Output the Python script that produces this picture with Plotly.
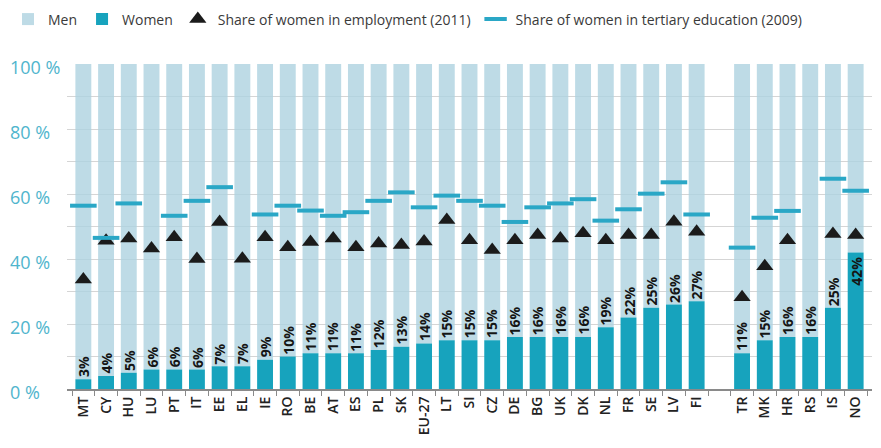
import plotly.graph_objects as go

categories = ["MT", "CY", "HU", "LU", "PT", "IT", "EE", "EL", "IE", "RO", "BE", "AT", "ES", "PL",
              "SK", "EU-27", "LT", "SI", "CZ", "DE", "BG", "UK", "DK", "NL", "FR", "SE", "LV", "FI",
              " ", "TR", "MK", "HR", "RS", "IS", "NO"]
women = [3, 4, 5, 6, 6, 6, 7, 7, 9, 10, 11, 11, 11, 12, 13, 14, 15, 15, 15, 16, 16, 16, 16, 19,
         22, 25, 26, 27, None, 11, 15, 16, 16, 25, 42]
employment = [33.7, 45.6, 46.3, 43.2, 46.7, 40.0, 51.4, 40.1, 46.7, 43.6, 45.2, 46.3, 43.6, 44.8,
              44.3, 45.4, 52.0, 45.8, 42.8, 45.8, 47.4, 46.3, 47.9, 45.8, 47.4, 47.4, 51.5, 48.4,
              None, 28.2, 37.8, 45.8, None, 47.7, 47.4]
tertiary = [56.4, 46.5, 57.1, None, 53.3, 57.9, 62.1, None, 53.7, 56.4, 54.9, 53.3, 54.4, 57.9,
            60.5, 55.9, 59.5, 57.9, 56.4, 51.4, 55.9, 57.1, 58.4, 51.8, 55.3, 60.1, 63.6, 53.7,
            None, 43.5, 52.7, 54.8, None, 64.7, 61.0]
y_ticks = [0, 20, 40, 60, 80, 100]
y_tick_labels = ["0 %", "20 %", "40 %", "60 %", "80 %", "100 %"]

men = [None if w is None else 100 - w for w in women]

MEN_C = "#aed3e1"      # drawn at 0.8 opacity -> appears ~#bedce7
WOMEN_C = "#17a3bd"
DASH_C = "#2aa7c6"
TICK_C = "#4fb5cd"
FONT = "Open Sans, Liberation Sans, Arial, sans-serif"

fig = go.Figure()
fig.add_trace(go.Bar(x=categories, y=men, base=women, name="Men", marker_color=MEN_C,
                     marker_line_width=0, opacity=0.8))
fig.add_trace(go.Bar(x=categories, y=women, name="Women", marker_color=WOMEN_C,
                     marker_line_width=0))
fig.add_trace(go.Scatter(x=categories, y=employment, mode="markers",
                         name="Share of women in employment (2011)",
                         marker=dict(symbol="triangle-up", size=15, color="#1b1b1b")))
fig.add_trace(go.Scatter(x=categories, y=tertiary, mode="markers",
                         name="Share of women in tertiary education (2009)",
                         marker=dict(symbol="line-ew", size=19, color=DASH_C,
                                     line=dict(color=DASH_C, width=4))))

annotations = []
for c, w in zip(categories, women):
    if w is None:
        continue
    inside = w > 35
    annotations.append(dict(x=c, y=w, xref="x", yref="y", text=f"{w}%", textangle=-90,
                            showarrow=False, yanchor="top" if inside else "bottom",
                            yshift=-2 if inside else 0,
                            font=dict(size=14, color="#151515", family=FONT, weight=700)))
for v, t in zip(y_ticks, y_tick_labels):
    annotations.append(dict(x=-59 / 805, y=v, xref="paper", yref="y", text=t, showarrow=False,
                            xanchor="left", yanchor="middle", yshift=-3,
                            font=dict(size=18, color=TICK_C, family=FONT)))

# page body has an 8px margin; the figure is sized so that it fills the 881x448 window
fig.update_layout(
    width=873, height=440,
    margin=dict(l=59, r=9, t=56, b=59, autoexpand=False),
    paper_bgcolor="white", plot_bgcolor="white",
    barmode="overlay", bargap=0.3,
    font=dict(family=FONT, color="#333333"),
    legend=dict(orientation="h", x=0.0, y=1.137, xref="container", yref="paper",
                xanchor="left", yanchor="middle", font=dict(size=14, color="#3a3a3a"),
                traceorder="normal", itemwidth=30),
    annotations=annotations,
    xaxis=dict(type="category", categoryorder="array", categoryarray=categories,
               range=[-0.72, 34.72], tickangle=-90,
               tickfont=dict(size=14, color="#222222", weight=600),
               showline=True, linecolor="#8a8a8a", linewidth=2, ticks="outside",
               tickson="boundaries", ticklen=5, tickcolor="#8a8a8a", showgrid=False),
    yaxis=dict(range=[0, 100], tickvals=y_ticks, showticklabels=False, showgrid=True,
               gridcolor="#d5d5d5", gridwidth=1, zeroline=False,
               minor=dict(dtick=10, showgrid=True, gridcolor="#d5d5d5", gridwidth=1)),
)

fig.write_html("out.html")
